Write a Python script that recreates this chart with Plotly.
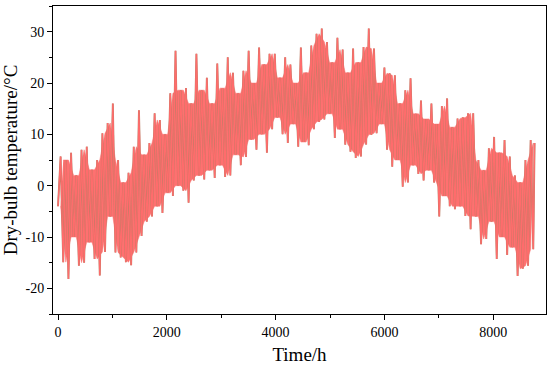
import plotly.graph_objects as go

# Alternating local peaks/troughs (hour, °C), ~every 2 days
hours = [0, 48, 96, 144, 192, 240, 288, 336, 384, 432,
         480, 528, 576, 624, 672, 720, 768, 816, 864, 912,
         960, 1008, 1056, 1104, 1152, 1200, 1248, 1296, 1344, 1392,
         1440, 1488, 1536, 1584, 1632, 1680, 1728, 1776, 1824, 1872,
         1920, 1968, 2016, 2064, 2112, 2160, 2208, 2256, 2304, 2352,
         2400, 2448, 2496, 2544, 2592, 2640, 2688, 2736, 2784, 2832,
         2880, 2928, 2976, 3024, 3072, 3120, 3168, 3216, 3264, 3312,
         3360, 3408, 3456, 3504, 3552, 3600, 3648, 3696, 3744, 3792,
         3840, 3888, 3936, 3984, 4032, 4080, 4128, 4176, 4224, 4272,
         4320, 4368, 4416, 4464, 4512, 4560, 4608, 4656, 4704, 4752,
         4800, 4848, 4896, 4944, 4992, 5040, 5088, 5136, 5184, 5232,
         5280, 5328, 5376, 5424, 5472, 5520, 5568, 5616, 5664, 5712,
         5760, 5808, 5856, 5904, 5952, 6000, 6048, 6096, 6144, 6192,
         6240, 6288, 6336, 6384, 6432, 6480, 6528, 6576, 6624, 6672,
         6720, 6768, 6816, 6864, 6912, 6960, 7008, 7056, 7104, 7152,
         7200, 7248, 7296, 7344, 7392, 7440, 7488, 7536, 7584, 7632,
         7680, 7728, 7776, 7824, 7872, 7920, 7968, 8016, 8064, 8112,
         8160, 8208, 8256, 8304, 8352, 8400, 8448, 8496, 8544, 8592,
         8640, 8688, 8736, 8760]
temps = [-4, 5.7, -14.9, 5.0, -18.2, 6.4, -10, 2, -15.6, 7.0,
         -15, 7.6, -11, 3.1, -14.3, 5, -17.5, 10.2, -12.9, 12.2,
         -6, 16, -13, 5, -14, 0.6, -14.9, 2.5, -15.5, 7.6,
         -13, 14.7, -9.8, 6, -7, 8.3, -6, 14.1, -4, 12.8,
         -5.3, 10, -1.4, 18, -2, 26.3, 0, 18.6, -1, 19,
         -3.3, 16, 1, 25.7, 2, 18.6, 1.2, 21, 3, 16,
         1.5, 23.8, 4, 19, 1.7, 25, 2, 22, 6, 18,
         4, 22.4, 5.6, 26.3, 9, 20, 7, 26.9, 10, 23.6,
         6.4, 25.7, 11, 25.7, 13.3, 21, 10, 25, 8.3, 23.6,
         12, 20, 7.6, 26.9, 8.5, 22, 7.9, 27.3, 11, 29.6,
         12.4, 30.6, 12.9, 28, 14, 24, 9.3, 28.8, 11, 26.5,
         8, 22, 6.6, 26.7, 5.4, 24, 5.7, 27, 8, 30.6,
         9.9, 26.7, 10.2, 20, 12, 23, 7, 21.9, 3.7, 21.5,
         5, 16, -0.2, 18.6, 0.6, 20.9, 4, 14, 2.3, 16.6,
         1, 13, 3, 16, 0.6, 12, -6, 15.5, -2, 17,
         -4, 11.4, -4.6, 13.1, -4, 13.3, -5.9, 14.1, -8.5, 14.1,
         -6, 5, -11.4, 3, -10.4, 7.3, -7, 9.5, -14.3, 6.4,
         -10, 8.9, -13.5, 5.7, -12, 2, -17.6, 0.6, -16.2, 5,
         -15.6, 8.9, -12.4, 8.3]

x_ticks = [0, 2000, 4000, 6000, 8000]
y_ticks = [-20, -10, 0, 10, 20, 30]

# Dense core of the trace: between consecutive extremes the hourly line covers
# at least the range of the lower neighbouring peak / higher neighbouring trough.
core_up_h, core_up_t, core_lo_h, core_lo_t = [], [], [], []
for i in range(1, len(temps) - 1):
    a, b = temps[i - 1], temps[i + 1]
    if temps[i] < min(a, b) or temps[i] <= a and temps[i] <= b:
        core_up_h.append(hours[i]); core_up_t.append(min(a, b))
    else:
        core_lo_h.append(hours[i]); core_lo_t.append(max(a, b))

fig = go.Figure()
fig.add_trace(go.Scatter(x=core_lo_h + core_up_h[::-1], y=core_lo_t + core_up_t[::-1], mode="lines",
                         fill="toself", fillcolor="rgb(255,112,112)",
                         line=dict(color="rgb(255,112,112)", width=0.5),
                         hoverinfo="skip", showlegend=False))
fig.add_trace(go.Scatter(x=hours, y=temps, mode="lines",
                         line=dict(color="rgb(185,125,100)", width=1.9),
                         hoverinfo="skip", showlegend=False))
fig.add_trace(go.Scatter(x=hours, y=temps, mode="lines",
                         line=dict(color="rgb(255,108,108)", width=1.3), showlegend=False))

fam = "Liberation Serif"
fig.update_layout(
    width=550, height=368,
    margin=dict(l=53, r=4, t=6, b=54),
    paper_bgcolor="white", plot_bgcolor="white",
    font=dict(family=fam, size=14, color="black"),
)
fig.update_xaxes(
    range=[-92, 8970], tickvals=x_ticks, ticktext=[str(v) for v in x_ticks],
    showline=True, linecolor="black", linewidth=1, mirror=True, automargin=False,
    ticks="outside", ticklen=5, tickcolor="black", showgrid=False, zeroline=False,
    minor=dict(ticks="outside", ticklen=3, dtick=1000, tick0=0, tickcolor="black", showgrid=False),
    title=dict(text="Time/h", font=dict(family=fam, size=19), standoff=8),
    tickfont=dict(family=fam, size=14),
)
fig.update_yaxes(
    range=[-25, 35], tickvals=y_ticks, ticktext=[str(v) for v in y_ticks],
    showline=True, linecolor="black", linewidth=1, mirror=True, automargin=False,
    ticks="outside", ticklen=5, tickcolor="black", showgrid=False, zeroline=False,
    minor=dict(ticks="outside", ticklen=3, dtick=5, tick0=0, tickcolor="black", showgrid=False),
    title=dict(text="Dry-bulb temperature/°C", font=dict(family=fam, size=19), standoff=4),
    tickfont=dict(family=fam, size=14),
)
fig.write_html("out.html", config={"displayModeBar": False},
               post_script="document.body.style.margin='0';")
